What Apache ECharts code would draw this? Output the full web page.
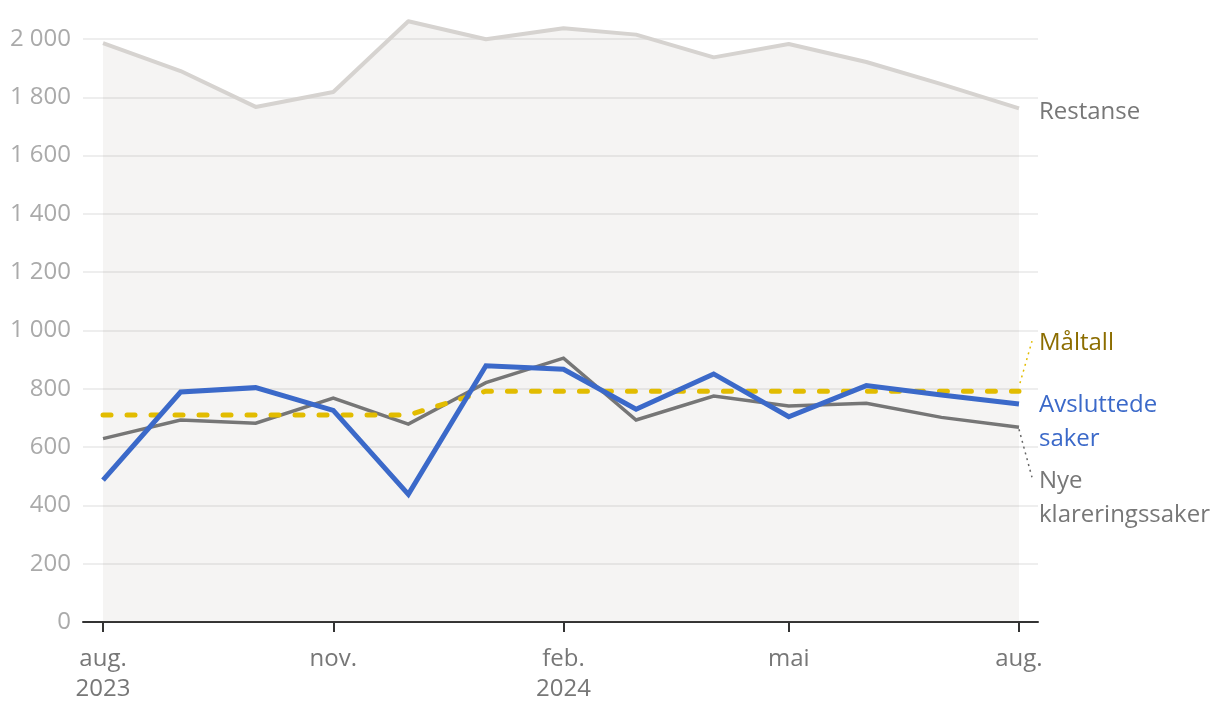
<!DOCTYPE html>
<html>
<head>
<meta charset="utf-8">
<script src="https://cdn.jsdelivr.net/npm/echarts@6/dist/echarts.min.js"></script>
<style>
html,body{margin:0;padding:0;background:#fff;}
#c{width:1220px;height:718px;}
</style>
</head>
<body>
<div id="c"></div>
<script>
// ---- data ----
const months = ['2023-08-01','2023-09-01','2023-10-01','2023-11-01','2023-12-01','2024-01-01','2024-02-01','2024-03-01','2024-04-01','2024-05-01','2024-06-01','2024-07-01','2024-08-01'];
const restanse   = [1986,1890,1767,1818,2061,1999,2037,2015,1937,1983,1921,1845,1762];
const avsluttede = [487,789,804,726,438,879,867,730,851,704,811,779,748];
const nye        = [629,693,682,768,679,821,905,693,775,741,750,702,668];
const maltall    = [710,710,710,710,710,792,792,792,792,792,792,792,792];
const tickDates  = ['2023-08-01','2023-11-01','2024-02-01','2024-05-01','2024-08-01'];
const tickLabels = ['aug.\n2023','nov.','feb.\n2024','mai','aug.'];

const DAY = 86400000;
const t = s => new Date(s).getTime();
const dates = months.map(t);
const tickTimes = tickDates.map(t);
const pair = arr => arr.map((v,i)=>[dates[i], v]);
const fmtNum = v => String(v).replace(/\B(?=(\d{3})+(?!\d))/g, '\u00a0');
const FONT = "'Open Sans', sans-serif";

const chart = echarts.init(document.getElementById('c'), null, {renderer:'canvas'});
const option = {
  animation: false,
  backgroundColor: '#fff',
  grid: {left: 83, right: 182, top: 39, bottom: 96},
  xAxis: {
    type: 'value',
    min: dates[0] - 8*DAY,
    max: dates[dates.length-1] + 7.6*DAY,
    splitLine: {show: false},
    axisLine: {show: true, onZero: false, lineStyle: {color: '#333', width: 2}},
    axisTick: {show: true, customValues: tickTimes, length: 10, lineStyle: {color: '#333', width: 2}},
    axisLabel: {
      show: true, customValues: tickTimes, margin: 22,
      color: '#777', fontFamily: FONT, fontSize: 24, lineHeight: 30,
      formatter: v => { const i = tickTimes.indexOf(v); return i >= 0 ? tickLabels[i] : ''; }
    }
  },
  yAxis: {
    type: 'value', min: 0, max: 2000, interval: 200,
    axisLine: {show: false}, axisTick: {show: false},
    splitLine: {show: true, lineStyle: {color: '#e8e8e8', width: 1.5}},
    axisLabel: {color: '#aaa', fontFamily: FONT, fontSize: 24, margin: 12, formatter: v => fmtNum(v)}
  },
  series: [
    {name: 'Restanse', type: 'line', data: pair(restanse), symbol: 'none', clip: false, z: 1,
     lineStyle: {color: '#d6d3d0', width: 4, join: 'round'},
     areaStyle: {color: 'rgba(130,120,100,0.11)', origin: 'start'}},
    {name: 'Nye klareringssaker', type: 'line', data: pair(nye), symbol: 'none', z: 2,
     lineStyle: {color: '#767676', width: 3.5, join: 'miter'}},
    {name: 'Måltall', type: 'line', data: pair(maltall), symbol: 'none', z: 3,
     lineStyle: {color: '#e2bc00', width: 5, type: [8,16], cap: 'round', join: 'round'}},
    {name: 'Avsluttede saker', type: 'line', data: pair(avsluttede), symbol: 'none', z: 4,
     lineStyle: {color: '#3b69c9', width: 5, join: 'miter'}}
  ]
};
chart.setOption(option);

const last = dates.length - 1;
const P = v => chart.convertToPixel({gridIndex: 0}, [dates[last], v]);
const pR = P(restanse[last]), pM = P(maltall[last]), pA = P(avsluttede[last]), pN = P(nye[last]);
const tx = pR[0] + 20;
const txt = (text, x, y, fill) => ({type: 'text', z: 10, style: {text, x, y, fill, font: "24px 'Open Sans', sans-serif", lineHeight: 34, verticalAlign: 'middle', align: 'left'}});
chart.setOption({graphic: [
  txt('Restanse', tx, pR[1] + 4, '#777'),
  txt('Måltall', tx, pM[1] - 48, '#8c6d00'),
  txt('Avsluttede', tx, pA[1] + 1, '#3b69c9'),
  txt('saker', tx, pA[1] + 35, '#3b69c9'),
  txt('Nye', tx, pN[1] + 54, '#777'),
  txt('klareringssaker', tx, pN[1] + 88, '#777'),
  {type: 'line', z: 10, shape: {x1: pM[0] + 1, y1: pM[1] - 8, x2: pM[0] + 13, y2: pM[1] - 50}, style: {stroke: '#e2bc00', lineWidth: 1.5, lineDash: [2,4]}},
  {type: 'line', z: 10, shape: {x1: pN[0], y1: pN[1] + 2, x2: pN[0] + 13, y2: pN[1] + 50}, style: {stroke: '#666', lineWidth: 1.5, lineDash: [2,4]}}
]});
</script>
</body>
</html>
